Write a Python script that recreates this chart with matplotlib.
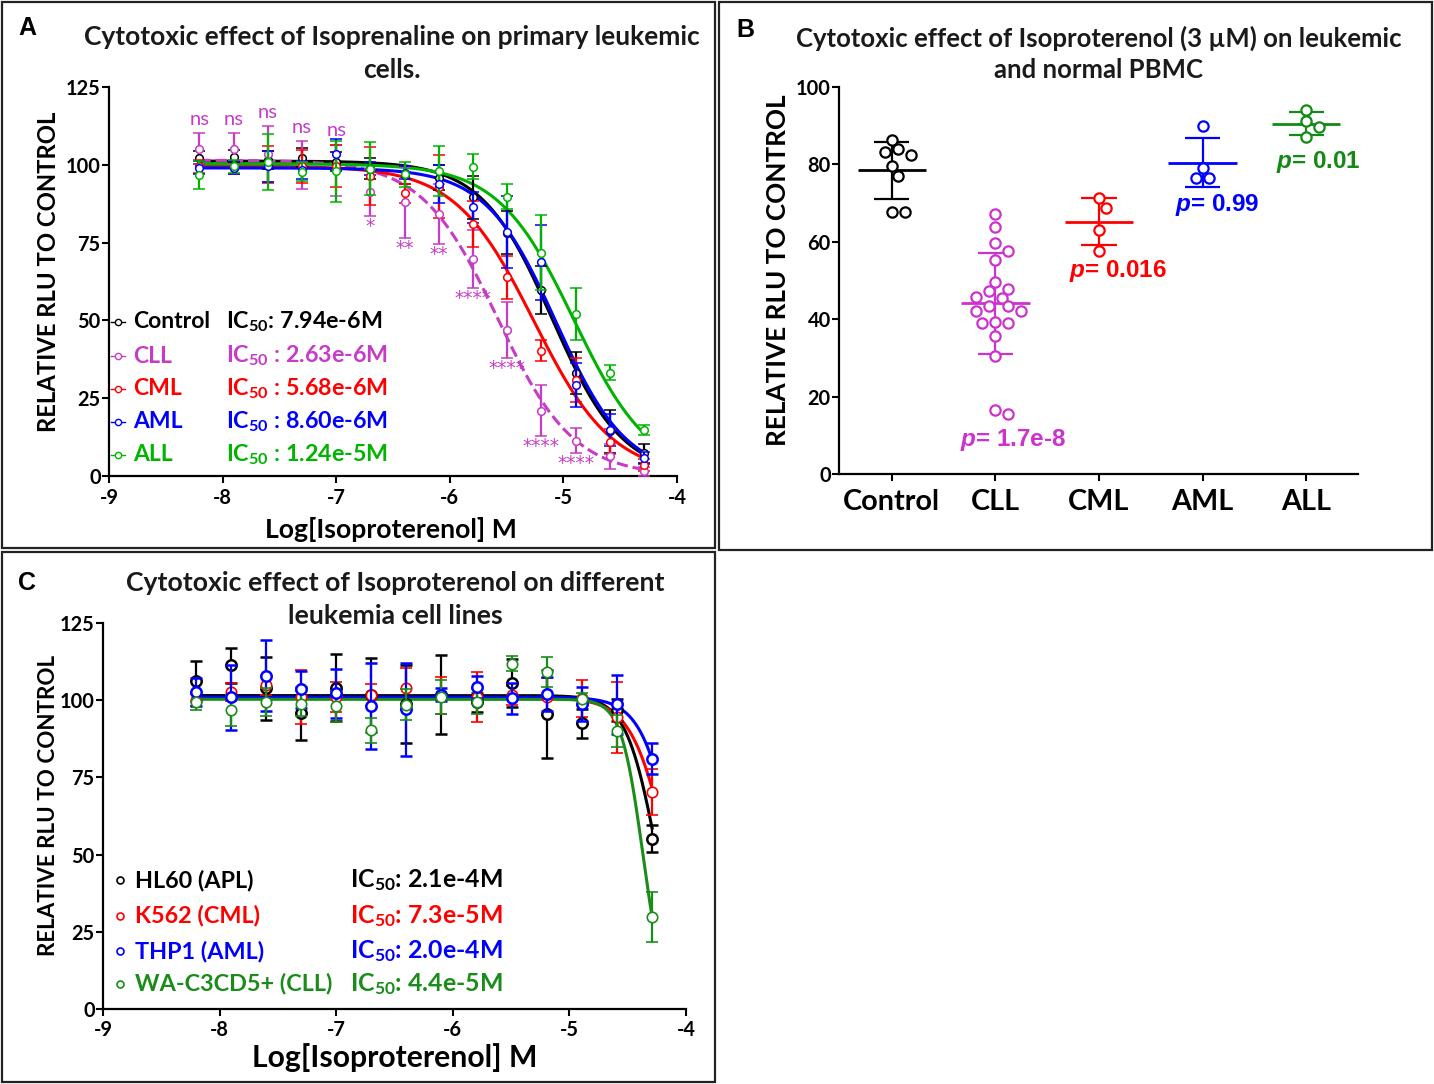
import numpy as np
import matplotlib
matplotlib.use('Agg')
import matplotlib.pyplot as plt
from matplotlib import font_manager as fm
from matplotlib.patches import Rectangle

# ---------------- panel A data: primary cells ----------------
log_conc = [-8.204, -7.903, -7.602, -7.301, -7.000, -6.699, -6.398,
            -6.097, -5.796, -5.495, -5.194, -4.893, -4.592, -4.291]
a_names = ['Control', 'CLL', 'CML', 'AML', 'ALL']
a_ic50_text = ['7.94e-6M', '2.63e-6M', '5.68e-6M', '8.60e-6M', '1.24e-5M']
control_mean = [102.3, 102.6, 101.5, 102.3, 101.0, 98.8, 96.7, 95.9, 89.5, 78.2, 59.8, 33.2, 14.3, 7.3]
control_sd = [2.0, 2.0, 3.0, 3.0, 3.0, 3.5, 3.0, 4.0, 7.0, 7.0, 7.6, 6.7, 6.8, 3.0]
cll_mean = [105.1, 105.1, 103.4, 99.9, 98.3, 91.2, 87.9, 84.2, 69.8, 46.9, 21.0, 11.4, 6.3, 1.5]
cll_sd = [5.0, 5.0, 9.0, 7.6, 8.2, 7.6, 11.5, 9.7, 9.4, 9.1, 8.3, 4.0, 4.0, 1.5]
cml_mean = [99.5, 99.1, 100.0, 99.5, 99.7, 96.5, 90.8, 93.0, 81.0, 63.8, 40.3, 30.8, 11.0, 3.6]
cml_sd = [2.0, 2.0, 6.0, 5.3, 6.8, 9.3, 3.0, 10.0, 7.5, 7.0, 3.5, 7.0, 4.0, 2.0]
aml_mean = [99.1, 99.1, 99.5, 98.3, 103.6, 98.8, 97.5, 93.8, 86.3, 78.4, 68.7, 29.2, 14.8, 5.8]
aml_sd = [2.0, 2.0, 5.0, 3.0, 4.6, 2.0, 2.0, 6.0, 5.0, 11.5, 12.0, 7.0, 5.0, 2.0]
all_mean = [96.7, 99.5, 101.0, 97.8, 98.0, 98.8, 97.0, 98.0, 99.4, 89.7, 71.8, 52.1, 33.2, 14.8]
all_sd = [4.6, 2.0, 9.0, 3.0, 9.8, 8.6, 4.0, 8.0, 4.0, 4.0, 12.0, 8.3, 2.5, 1.5]
# fitted 4PL parameters (top, logIC50, hill), bottom = 0
a_top = [101.2, 101.5, 99.6, 99.0, 100.3]
a_logic50 = [-5.100, -5.580, -5.260, -5.065, -4.907]
a_hill = [1.4, 1.3, 1.25, 1.4, 1.3]
# CLL vs control significance
cll_sig = ['ns', 'ns', 'ns', 'ns', 'ns', '*', '**', '**', '****', '****', '****', '****', '', '']

# ---------------- panel B data: 3 uM isoproterenol ----------------
b_groups = ['Control', 'CLL', 'CML', 'AML', 'ALL']
b_control = [86.3, 83.9, 82.5, 83.2, 79.6, 76.9, 67.6, 67.6]
b_cll = [67.2, 63.7, 59.7, 57.7, 55.3, 49.7, 47.8, 47.2, 45.6, 45.7, 43.4,
         43.5, 42.0, 42.2, 39.0, 39.4, 39.0, 35.7, 30.6, 15.6, 16.6]
b_cml = [71.3, 68.7, 63.0, 57.7]
b_aml = [89.8, 79.1, 76.4, 76.5]
b_all = [94.1, 91.3, 89.6, 87.0]
b_pvals = ['', '1.7e-8', '0.016', '0.99', '0.01']

# ---------------- panel C data: cell lines ----------------
c_names = ['HL60 (APL)', 'K562 (CML)', 'THP1 (AML)', 'WA-C3CD5+ (CLL)']
c_ic50_text = ['2.1e-4M', '7.3e-5M', '2.0e-4M', '4.4e-5M']
hl60_mean = [106.3, 111.3, 103.8, 95.7, 104.0, 101.8, 98.7, 101.8, 99.3, 105.7, 95.5, 92.5, 96.8, 55.2]
hl60_sd = [6.5, 5.7, 10.3, 8.7, 10.8, 12.0, 12.7, 12.9, 3.0, 7.8, 14.3, 4.8, 3.5, 4.3]
k562_mean = [100.0, 102.7, 104.8, 101.1, 101.1, 101.6, 103.8, 101.6, 101.1, 101.6, 101.1, 100.6, 94.4, 70.3]
k562_sd = [2.0, 3.0, 3.0, 8.7, 4.8, 3.5, 6.7, 6.0, 8.0, 3.0, 6.0, 6.0, 11.6, 7.5]
thp1_mean = [102.7, 100.9, 107.9, 103.6, 102.2, 98.2, 97.0, 101.8, 104.3, 100.6, 101.9, 98.7, 98.7, 81.1]
thp1_sd = [4.5, 10.5, 11.5, 6.0, 8.0, 14.0, 15.0, 2.0, 3.5, 5.0, 5.5, 5.5, 9.5, 4.9]
wa_mean = [99.5, 96.8, 99.5, 98.9, 98.1, 90.3, 98.6, 101.1, 99.5, 111.8, 109.2, 100.3, 90.1, 29.9]
wa_sd = [2.7, 5.0, 4.5, 4.0, 5.0, 4.0, 5.0, 5.5, 4.0, 2.5, 4.8, 2.0, 5.2, 8.1]
c_top = [101.5, 100.8, 101.0, 100.3]
c_logic50 = [-4.25, -4.15, -4.09, -4.37]
c_hill = [3.3, 2.75, 3.0, 4.7]

A_COLORS = ['#000000', '#c63cc6', '#ff0000', '#0000ff', '#00b400']
B_COLORS = ['#000000', '#cc33cc', '#ff0000', '#0000ff', '#138a13']
C_COLORS = ['#000000', '#ff0000', '#0000ff', '#1a8c1a']


def pick_bold_family(cands):
    """first family that really has a bold face"""
    names = {'bold': 700, 'semibold': 600, 'demibold': 600, 'demi': 600}
    for fam in cands:
        for f in fm.fontManager.ttflist:
            w = f.weight if isinstance(f.weight, int) else names.get(str(f.weight).lower(), 400)
            if f.name == fam and 600 <= w <= 750 and f.style == 'normal':
                return fam
    return 'DejaVu Sans'


FAM = pick_bold_family(['Lato', 'Open Sans', 'Noto Sans', 'Roboto', 'Liberation Sans'])
plt.rcParams['font.family'] = [FAM, 'DejaVu Sans']
plt.rcParams['font.weight'] = 'bold'
plt.rcParams['axes.labelweight'] = 'bold'
plt.rcParams['axes.unicode_minus'] = False
plt.rcParams['mathtext.fontset'] = 'custom'
plt.rcParams['mathtext.it'] = 'Liberation Sans:italic:bold'
plt.rcParams['mathtext.default'] = 'regular'


def four_pl(x, top, logic50, hill, bottom=0.0):
    return bottom + (top - bottom) / (1 + 10 ** ((x - logic50) * hill))


fig = plt.figure(figsize=(14.34, 10.84), dpi=100)
W, H = 1434.0, 1084.0
renderer = fig.canvas.get_renderer()


def fit(t, target_px):
    """scale font so the text spans target_px (length along its direction)"""
    bb = t.get_window_extent(renderer)
    w = bb.height if t.get_rotation() == 90 else bb.width
    t.set_fontsize(t.get_fontsize() * target_px / w)
    return t.get_fontsize()


def size_for(s, target_px, **kw):
    kw.setdefault('fontweight', 'bold')
    t = fig.text(0, 0, s, fontsize=20, **kw)
    size = fit(t, target_px)
    t.remove()
    return size


TICK = size_for('100', 35)
BTICK = size_for('Control', 97)


def style_axes(ax):
    for s in ['top', 'right']:
        ax.spines[s].set_visible(False)
    for s in ['left', 'bottom']:
        ax.spines[s].set_linewidth(1.6)
    ax.tick_params(direction='out', length=5, width=1.5, labelsize=TICK)
    ax.tick_params(axis='y', pad=1)
    ax.tick_params(axis='x', pad=4)


def bold_ticks(ax):
    for lab in ax.get_xticklabels() + ax.get_yticklabels():
        lab.set_fontweight('bold')


def swarm_offsets(ax, vals, diam_px=10.5, step_px=6.5):
    """simple beeswarm: place points greedily, largest value first"""
    p0 = ax.transData.transform((0, 0))
    p1 = ax.transData.transform((1, 1))
    sx, sy = p1[0] - p0[0], p1[1] - p0[1]
    cands = [0.0]
    for k in range(1, 20):
        cands += [k * step_px, -k * step_px]
    placed = []
    offs = np.zeros(len(vals))
    for i in np.argsort(vals)[::-1]:
        y = vals[i] * sy
        for c in cands:
            if all((c - px) ** 2 + (y - py) ** 2 >= diam_px ** 2 for px, py in placed):
                break
        placed.append((c, y))
        offs[i] = c / sx
    return offs


def fig_rect(x0, y0, x1, y1):
    return [x0 / W, 1 - y1 / H, (x1 - x0) / W, (y1 - y0) / H]


# panel frames
for (x0, y0, x1, y1) in [(2, 2, 715, 548), (719, 2, 1432, 550), (2, 552, 715, 1082)]:
    r = fig_rect(x0, y0, x1, y1)
    fig.patches.append(Rectangle((r[0], r[1]), r[2], r[3], fill=False, lw=1.6,
                                 edgecolor='#222222', transform=fig.transFigure))

for letter, (lx, ly) in zip('ABC', [(27, 28), (745, 30), (27, 583)]):
    fig.text(lx / W, 1 - ly / H, letter, fontsize=18, family='Liberation Sans',
             fontweight='bold', ha='center', va='center')

titles = [
    (392, 37, 70, 'Cytotoxic effect of Isoprenaline on primary leukemic', 'cells.', 620),
    (1099, 38, 70, 'Cytotoxic effect of Isoproterenol (3 \u00b5M) on leukemic', 'and normal PBMC', 606),
    (395, 583, 616, 'Cytotoxic effect of Isoproterenol on different', 'leukemia cell lines', 541),
]
for cx, y1, y2, l1, l2, wpx in titles:
    t1 = fig.text(cx / W, 1 - y1 / H, l1, fontsize=16, fontweight='bold',
                  ha='center', va='center', color='#1a1a1a')
    sz = fit(t1, wpx)
    fig.text(cx / W, 1 - y2 / H, l2, fontsize=sz, fontweight='bold',
             ha='center', va='center', color='#1a1a1a')

# ================= panel A =================
axA = fig.add_axes(fig_rect(109, 87, 677, 476))
style_axes(axA)
a_means = [control_mean, cll_mean, cml_mean, aml_mean, all_mean]
a_sds = [control_sd, cll_sd, cml_sd, aml_sd, all_sd]
xfit = np.linspace(log_conc[0], log_conc[-1], 400)
for i in [4, 2, 3, 1, 0]:
    col = A_COLORS[i]
    ls = '--' if a_names[i] == 'CLL' else '-'
    axA.plot(xfit, four_pl(xfit, a_top[i], a_logic50[i], a_hill[i]), color=col,
             lw=2.2, ls=ls, zorder=2 + i * 0.1)
    axA.errorbar(log_conc, a_means[i], yerr=a_sds[i], fmt='o', ms=5.5, mfc='white',
                 mec=col, mew=1.1, ecolor=col, elinewidth=1.6, capsize=4, capthick=1.6,
                 zorder=3 + i * 0.1)
NS = size_for('ns', 20, fontweight='normal')
STAR = size_for('****', 37, fontweight='normal', family='DejaVu Sans')
for i, lab in enumerate(cll_sig):
    if lab == 'ns':
        axA.text(log_conc[i], cll_mean[i] + cll_sd[i] + 1.8, lab, ha='center', va='bottom',
                 fontsize=NS, fontweight='normal', color=A_COLORS[1])
    elif lab:
        axA.text(log_conc[i], cll_mean[i] - cll_sd[i] - 0.3, lab, ha='center', va='top',
                 fontsize=STAR, fontweight='normal', family='DejaVu Sans', color=A_COLORS[1])
axA.set_xlim(-9, -4)
axA.set_ylim(0, 125)
axA.set_xticks([-9, -8, -7, -6, -5, -4])
axA.set_yticks([0, 25, 50, 75, 100, 125])
bold_ticks(axA)
axA.set_xlabel('Log[Isoproterenol] M', fontsize=16, fontweight='bold')
axA.xaxis.set_label_coords(0.496, -0.138)
axA.xaxis.label.set_va('center')
fit(axA.xaxis.label, 252)
axA.set_ylabel('RELATIVE RLU TO CONTROL', fontsize=15, fontweight='bold')
axA.yaxis.set_label_coords(-0.107, 0.524)
axA.yaxis.label.set_va('center')
fit(axA.yaxis.label, 320)

rows_a = [0.396, 0.308, 0.224, 0.139, 0.054]
LEG_A = size_for('Control', 77)
IC_A = size_for(r'IC$_{\mathregular{50}}$: 7.94e-6M', 156)
for i, name in enumerate(a_names):
    col = A_COLORS[i]
    y = rows_a[i]
    axA.plot([0.004, 0.028], [y, y], color=col, lw=1.0, transform=axA.transAxes, clip_on=False)
    axA.plot([0.016], [y], 'o', ms=4.5, mfc='white', mec=col, mew=1.0,
             transform=axA.transAxes, clip_on=False)
    axA.text(0.042, y, name, color=col, fontsize=LEG_A, fontweight='bold',
             va='center', transform=axA.transAxes)
    sep = ': ' if i == 0 else ' : '
    axA.text(0.206, y, r'IC$_{\mathregular{50}}$' + sep + a_ic50_text[i], color=col,
             fontsize=IC_A, fontweight='bold', va='center', transform=axA.transAxes)

# ================= panel B =================
axB = fig.add_axes(fig_rect(839, 87, 1358, 474))
style_axes(axB)
axB.set_xlim(-0.51, 4.5)
axB.set_ylim(0, 100)
axB.set_yticks([0, 20, 40, 60, 80, 100])
axB.set_xticks(range(len(b_groups)))
axB.set_xticklabels(b_groups, fontsize=BTICK)
bold_ticks(axB)
axB.tick_params(axis='x', pad=6)
axB.set_ylabel('RELATIVE RLU TO CONTROL', fontsize=15, fontweight='bold')
axB.yaxis.set_label_coords(-0.1175, 0.527)
axB.yaxis.label.set_va('center')
fit(axB.yaxis.label, 350)
b_sets = [b_control, b_cll, b_cml, b_aml, b_all]
for i, vals in enumerate(b_sets):
    col = B_COLORS[i]
    vals = np.array(vals)
    m, s = vals.mean(), vals.std(ddof=1)
    axB.vlines(i, m - s, m + s, color=col, lw=1.6, zorder=2)
    axB.hlines([m - s, m + s], i - 0.17, i + 0.17, color=col, lw=1.6, zorder=2)
    axB.hlines(m, i - 0.33, i + 0.33, color=col, lw=2.0, zorder=2)
    offs = swarm_offsets(axB, vals)
    axB.plot(i + offs, vals, 'o', ms=7.4, mfc='white', mec=col, mew=1.6, ls='none', zorder=3)
PV = size_for(r'$\mathit{p}$= 1.7e-8', 106, family='Liberation Sans')
p_pos = {1: (1.17, 8.8), 2: (2.18, 52.5), 3: (3.14, 69.5), 4: (4.12, 80.5)}
for i, pv in enumerate(b_pvals):
    if pv:
        x, y = p_pos[i]
        axB.text(x, y, r'$\mathit{p}$= ' + pv, color=B_COLORS[i], fontsize=PV,
                 family='Liberation Sans', fontweight='bold', ha='center', va='center')

# ================= panel C =================
axC = fig.add_axes(fig_rect(103, 623, 686, 1009))
style_axes(axC)
c_means = [hl60_mean, k562_mean, thp1_mean, wa_mean]
c_sds = [hl60_sd, k562_sd, thp1_sd, wa_sd]
c_mew = [1.8, 1.2, 1.8, 1.2]
for i in [3, 1, 2, 0]:
    col = C_COLORS[i]
    axC.plot(xfit, four_pl(xfit, c_top[i], c_logic50[i], c_hill[i]), color=col, lw=2.2,
             zorder=2 + i * 0.1)
    axC.errorbar(log_conc, c_means[i], yerr=c_sds[i], fmt='o', ms=7.5, mfc='white',
                 mec=col, mew=c_mew[i], ecolor=col, elinewidth=1.6, capsize=4, capthick=1.6,
                 zorder=3 + i * 0.1)
axC.set_xlim(-9, -4)
axC.set_ylim(0, 125)
axC.set_xticks([-9, -8, -7, -6, -5, -4])
axC.set_yticks([0, 25, 50, 75, 100, 125])
bold_ticks(axC)
axC.tick_params(axis='x', pad=3)
axC.set_xlabel('Log[Isoproterenol] M', fontsize=17, fontweight='bold')
axC.xaxis.set_label_coords(0.5, -0.125)
axC.xaxis.label.set_va('center')
fit(axC.xaxis.label, 285)
axC.set_ylabel('RELATIVE RLU TO CONTROL', fontsize=15, fontweight='bold')
axC.yaxis.set_label_coords(-0.094, 0.528)
axC.yaxis.label.set_va('center')
fit(axC.yaxis.label, 300)

rows_c = [0.334, 0.241, 0.150, 0.065]
LEG_C = size_for('WA-C3CD5+ (CLL)', 197)
IC_C = size_for(r'IC$_{\mathregular{50}}$: 2.1e-4M', 152)
for i, name in enumerate(c_names):
    col = C_COLORS[i]
    y = rows_c[i]
    axC.plot([0.029], [y], 'o', ms=5, mfc='white', mec=col, mew=1.2,
             transform=axC.transAxes, clip_on=False)
    axC.text(0.055, y, name, color=col, fontsize=LEG_C, fontweight='bold',
             va='center', transform=axC.transAxes)
    axC.text(0.424, y, r'IC$_{\mathregular{50}}$: ' + c_ic50_text[i], color=col,
             fontsize=IC_C, fontweight='bold', va='center', transform=axC.transAxes)

fig.savefig('out.png', dpi=100)
